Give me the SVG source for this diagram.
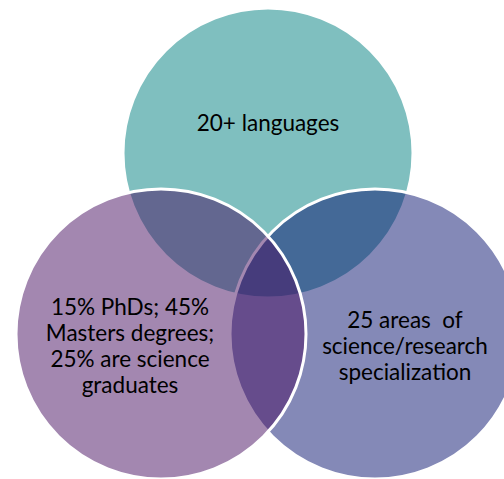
<svg xmlns="http://www.w3.org/2000/svg" width="504" height="479" viewBox="0 0 504 479">
  <style>
    .c { stroke: #ffffff; stroke-width: 3; fill-opacity: 0.5; }
    .t { font-family: "Lato", "Open Sans", "Liberation Sans", sans-serif; font-size: 22.5px; fill: #000000; text-anchor: middle; white-space: pre; }
  </style>
  <rect width="504" height="479" fill="#ffffff"/>
  <g id="node-languages">
    <circle class="c" cx="268" cy="153" r="145" fill="#008080"/>
    <text class="t" x="268" y="131">20+ languages</text>
  </g>
  <g id="node-specialization">
    <circle class="c" cx="375" cy="334" r="145" fill="#091370"/>
    <text class="t" x="405" y="328" xml:space="preserve">25 areas  of</text>
    <text class="t" x="405" y="354">science/research</text>
    <text class="t" x="405" y="380">specialization</text>
  </g>
  <g id="node-degrees">
    <circle class="c" cx="161" cy="334" r="145" fill="#470F61"/>
    <text class="t" x="130" y="315">15% PhDs; 45%</text>
    <text class="t" x="130" y="341">Masters degrees;</text>
    <text class="t" x="130" y="367">25% are science</text>
    <text class="t" x="130" y="393">graduates</text>
  </g>
  <g id="connectors"/>
</svg>
